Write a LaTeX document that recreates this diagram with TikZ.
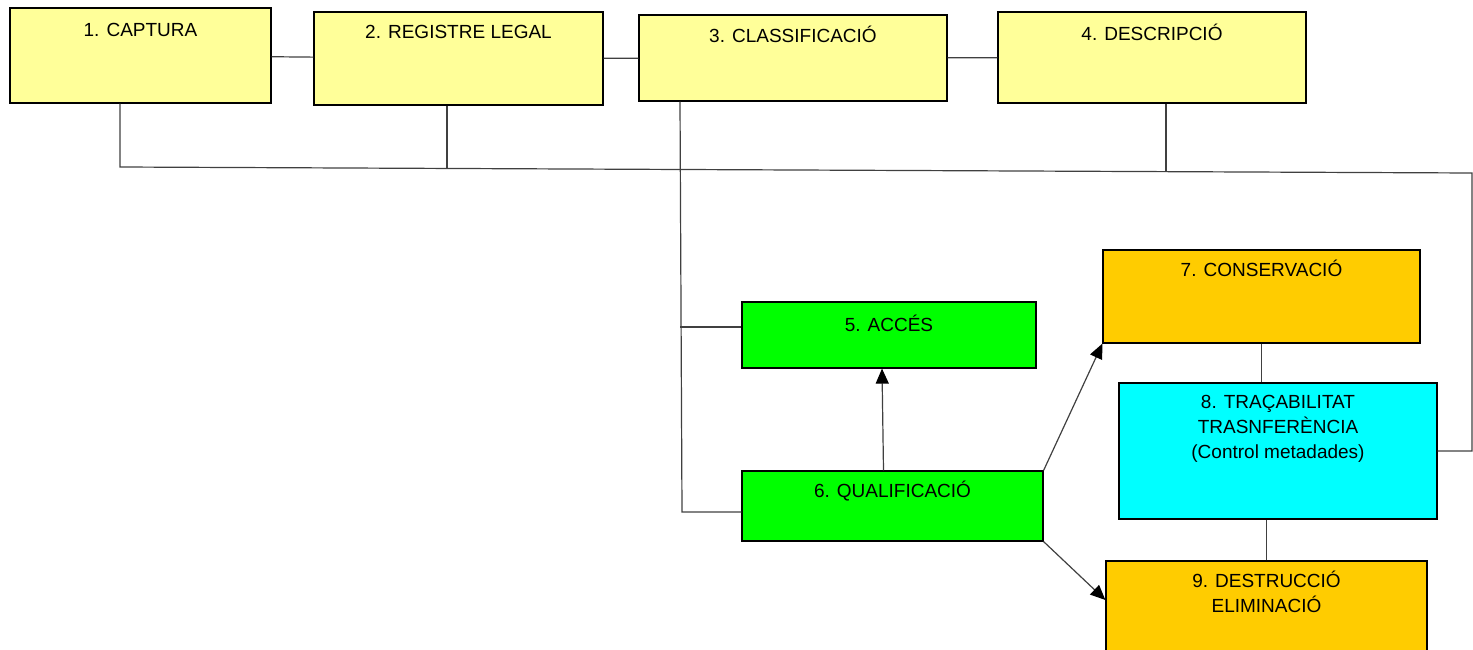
\documentclass[tikz,border=0pt]{standalone}
\usepackage{fontspec}
\setmainfont{Liberation Sans}
\usetikzlibrary{arrows.meta}
\definecolor{paleyellow}{HTML}{FFFF99}
\definecolor{amber}{HTML}{FFCC00}
\definecolor{brightgreen}{HTML}{00FF00}
\definecolor{brightcyan}{HTML}{00FFFF}
\tikzset{
  stage/.style={draw=black, line width=1.2pt, rectangle, inner sep=0pt},
  link/.style={draw=black!75, line width=1.2pt},
  arr/.style={link, -{Triangle[length=15pt,width=13pt,color=black]}},
}
% name, fill, cx, cy, width, height, offset of the last baseline, text
\newcommand{\stagebox}[8]{%
  \node[stage, fill=#2, minimum width=#5pt, minimum height=#6pt,
        label={[anchor=base, yshift=-#7pt, align=center, inner sep=0pt,
                font=\fontsize{19}{25}\selectfont]north:#8}]
        (#1) at (#3,#4) {};}
\begin{document}
\begin{tikzpicture}[x=1pt, y=-1pt]
  \useasboundingbox (0,0) rectangle (1473,650);
  \clip (0,0) rectangle (1473,650);

  % boxes of the workflow
  \stagebox{b1}{paleyellow}{140.5}{55.5}{261}{95}{29}{1. CAPTURA}
  \stagebox{b2}{paleyellow}{458.5}{58.5}{289}{93}{27}{2. REGISTRE LEGAL}
  \stagebox{b3}{paleyellow}{793}{58}{308}{86}{28}{3. CLASSIFICACIÓ}
  \stagebox{b4}{paleyellow}{1152}{57.5}{308}{91}{29}{4. DESCRIPCIÓ}
  \stagebox{b5}{brightgreen}{889}{335}{294}{66}{30}{5. ACCÉS}
  \stagebox{b6}{brightgreen}{892.5}{506}{301}{70}{27}{6. QUALIFICACIÓ}
  \stagebox{b7}{amber}{1261.5}{296.5}{317}{93}{27}{7. CONSERVACIÓ}
  \stagebox{b8}{brightcyan}{1278}{451}{318}{136}{76}{8. TRAÇABILITAT\\TRASNFERÈNCIA\\(Control metadades)}
  \stagebox{b9}{amber}{1266.5}{613}{321}{104}{52}{9. DESTRUCCIÓ\\ELIMINACIÓ}

  % joints of the common bus
  \coordinate (busL) at (120,167);
  \coordinate (j2)   at (447,168);
  \coordinate (j4)   at (1166,172);
  \coordinate (busR) at (1472,173);
  \coordinate (c5)   at (680,327);
  \coordinate (c3)   at (682,512);

  % links between the top boxes
  \draw[link] (b1) -- (b2);
  \draw[link] (b2) -- (b3);
  \draw[link] (b3) -- (b4);

  % common bus to traceability
  \draw[link] (b1.south -| busL) -- (busL) -- (busR) |- (b8.east);
  \draw[link] (b2.south -| j2) -- (j2);
  \draw[link] (b4.south -| j4) -- (j4);

  % classification feeds access and qualification
  \draw[link] (b3.south -| c5) -- (c3) -- (c3 -| b6.west);
  \draw[link] (c5) -- (c5 -| b5.west);

  % qualification outcomes
  \draw[arr] ([xshift=-9pt]b6.north) -- ([xshift=-7pt]b5.south);
  \draw[arr] (b6.north east) -- (b7.south west);
  \draw[arr] (b6.south east) -- ([yshift=13pt]b9.west);

  % traceability links
  \draw[link] (b7.south) -- (b7.south |- b8.north);
  \draw[link] (b9.north) -- (b9.north |- b8.south);
\end{tikzpicture}
\end{document}
